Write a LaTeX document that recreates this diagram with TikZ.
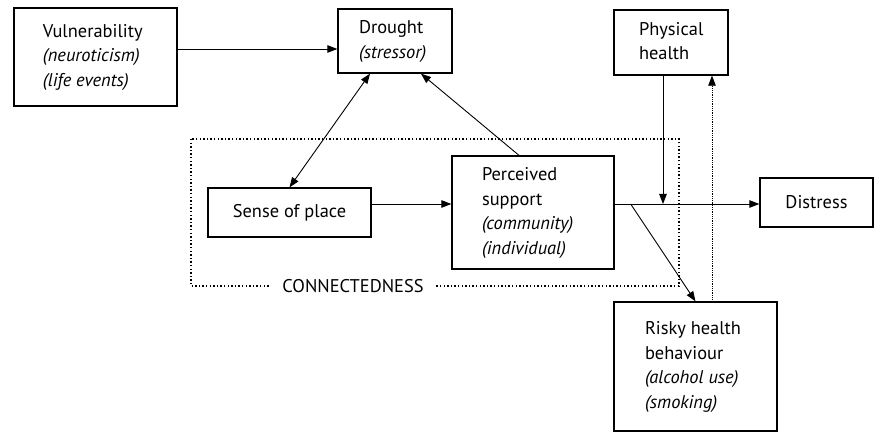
\documentclass[tikz,border=0pt]{standalone}
\usepackage{fontspec}
\setmainfont{PT Sans}
\usetikzlibrary{calc,arrows.meta}
\newcommand\leftlines[2]{\makebox[#1][l]{\begin{tabular}{@{}l@{}}#2\end{tabular}}}
\begin{document}
\begin{tikzpicture}[x=1bp,y=-1bp,
  txt/.style={font=\fontsize{18.4bp}{24.5bp}\selectfont},
  boxl/.style={draw, line width=1.3bp, txt, inner ysep=0pt, minimum height=#1},
  boxc/.style={draw, line width=1.3bp, txt, align=center, inner sep=0pt},
  arr/.style={line width=0.9bp, -{Triangle[length=10bp,width=7.5bp]}},
  arrb/.style={line width=0.9bp, {Triangle[length=10bp,width=7.5bp]}-{Triangle[length=10bp,width=7.5bp]}},
  dotarr/.style={line width=0.6bp, dash pattern=on 0.7bp off 1.1bp, -{Triangle[length=10bp,width=7.5bp]}},
  grp/.style={line width=1.3bp, dash pattern=on 1.4bp off 2.2bp}
]
\useasboundingbox (0,0) rectangle (876,433);

% group rectangle
\draw[grp] (191,139) rectangle (679,286);
\node[txt, fill=white, inner xsep=11bp, inner ysep=2bp] (con) at (353,286) {CONNECTEDNESS};

\node[boxl=98bp, inner xsep=29bp] (vul) at (95.5,57)
  {\leftlines{105bp}{Vulnerability\\\textit{(neuroticism)}\\\textit{(life events)}}};
\node[boxl=64bp, inner xsep=21bp] (dro) at (395,41)
  {\leftlines{72bp}{Drought\\\textit{(stressor)}}};
\node[boxl=65bp, inner xsep=25bp] (phy) at (671,42.5)
  {\leftlines{64bp}{Physical\\health}};
\node[boxc, minimum width=163bp, minimum height=49bp] (sop) at (289.5,212.5)
  {Sense of place};
\node[boxl=113bp, inner xsep=30bp] (per) at (533,212.5)
  {\leftlines{102bp}{Perceived\\support\\\textit{(community)}\\\textit{(individual)}}};
\node[boxc, minimum width=113bp, minimum height=49bp] (dis) at (816.5,202.5)
  {Distress};
\node[boxl=129bp, inner xsep=31bp] (risk) at (695.5,366.5)
  {\leftlines{101bp}{Risky health\\behaviour\\\textit{(alcohol use)}\\\textit{(smoking)}}};

% connectors
\coordinate (va) at ($(vul.east)+(0,-8)$);
\draw[arr] (va) -- (va -| dro.west);

\draw[arrb] ($(dro.south)+(-25,0)$) -- (sop.north);

\draw[arr] ($(per.north)+(-14,0)$) -- ($(dro.south)+(26,0)$);

\coordinate (sa) at ($(sop.east)+(0,-8.5)$);
\draw[arr] (sa) -- (sa -| per.west);

\coordinate (pa) at ($(per.east)+(0,-8.5)$);
\draw[arr] (pa) -- (pa -| dis.west);

\coordinate (ph) at ($(phy.south)+(-8,0)$);
\draw[arr] (ph) -- (ph |- pa);

\coordinate (br) at ($(pa)+(16,0)$);
\draw[arr] (br) -- (risk.north);

\coordinate (rd) at ($(risk.north)+(16.5,0)$);
\draw[dotarr] (rd) -- (rd |- phy.south);
\end{tikzpicture}
\end{document}
